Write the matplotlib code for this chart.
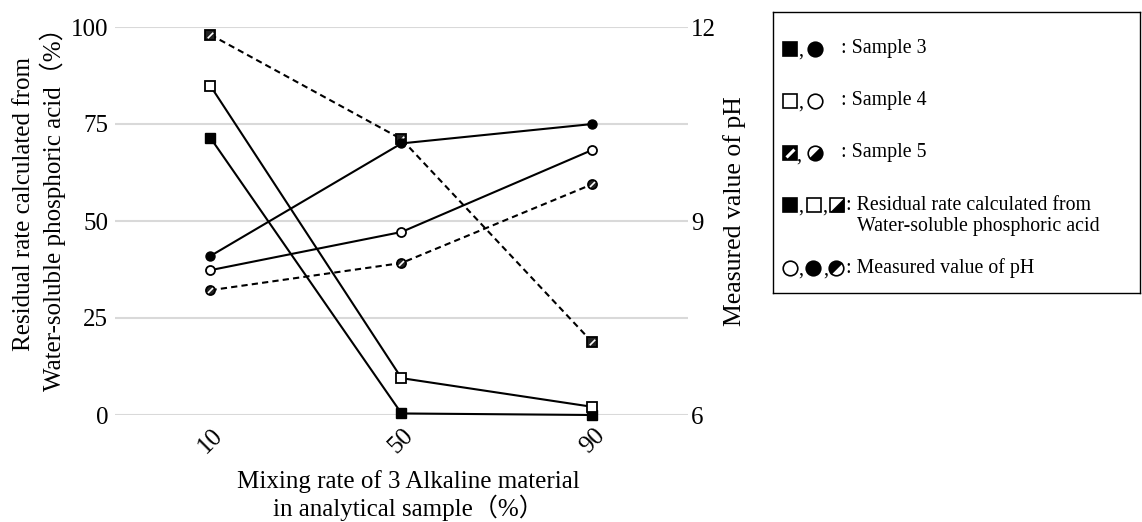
import numpy as np
import matplotlib
matplotlib.use('Agg')
import matplotlib.pyplot as plt
from matplotlib.markers import MarkerStyle
from matplotlib.path import Path
from matplotlib.transforms import Affine2D

# data
mix_rate = ['10', '50', '90']
res_s3 = [71.4, 0.4, 0.0]
res_s4 = [84.8, 9.5, 2.1]
res_s5 = [98.0, 71.1, 18.7]
ph_s3 = [8.46, 10.2, 10.5]
ph_s4 = [8.24, 8.83, 10.1]
ph_s5 = [7.93, 8.35, 9.57]

left_ticks = [0, 25, 50, 75, 100]
right_ticks = [6, 9, 12]

FONT = ['Liberation Serif', 'Noto Sans CJK JP']
plt.rcParams['font.family'] = FONT

W, H = 1142, 522
fig = plt.figure(figsize=(W / 100, H / 100), dpi=100)

# main axes placed in pixel terms
x0, x1, ytop, ybot = 115, 688, 27, 415
ax = fig.add_axes([x0 / W, 1 - ybot / H, (x1 - x0) / W, (ybot - ytop) / H])
ax2 = ax.twinx()

x = np.arange(len(mix_rate))
lw = 1.5
dash = (0, (3, 2))
ms = 6.5
slash = Path([(-1, -1), (1, 1)])
tri_lr = [(-1, -1), (1, -1), (1, 1), (-1, -1)]

# residual rate (left axis, squares)
ax.plot(x, res_s3, color='black', lw=lw, marker='s', ms=ms, mfc='black', mec='black', clip_on=False, zorder=3)
ax.plot(x, res_s4, color='black', lw=lw, marker='s', ms=ms, mfc='white', mec='black', mew=1.3, clip_on=False, zorder=3)
ax.plot(x, res_s5, color='black', lw=lw, linestyle=dash, marker='s', ms=ms, mfc='#222222', mec='black',
        mew=1.3, clip_on=False, zorder=3)
ax.plot(x, res_s5, ls='none', marker=slash, ms=4, mec='white', mew=1.2, clip_on=False, zorder=4)

# pH (right axis, circles)
ax2.plot(x, ph_s3, color='black', lw=lw, marker='o', ms=ms, mfc='black', mec='black', clip_on=False, zorder=3)
ax2.plot(x, ph_s4, color='black', lw=lw, marker='o', ms=ms, mfc='white', mec='black', mew=1.3, clip_on=False, zorder=3)
ax2.plot(x, ph_s5, color='black', lw=lw, linestyle=dash, marker='o', ms=ms, mfc='#222222', mec='black',
         mew=1.3, clip_on=False, zorder=3)
ax2.plot(x, ph_s5, ls='none', marker=slash, ms=3.6, mec='white', mew=1.2, clip_on=False, zorder=4)

ax.set_xlim(-0.5, len(mix_rate) - 0.5)
ax.set_ylim(0, 100)
ax2.set_ylim(6, 12)

ax.set_yticks(left_ticks)
ax2.set_yticks(right_ticks)
ax.set_xticks(x)
ax.set_xticklabels(mix_rate, rotation=45, fontsize=18)
ax.tick_params(axis='x', length=0, pad=7)
ax.tick_params(axis='y', length=0, pad=5, labelsize=18)
ax2.tick_params(axis='y', length=0, pad=2, labelsize=18)

ax.grid(axis='y', color='#d9d9d9', lw=1.5)
ax.set_axisbelow(True)
for a in (ax, ax2):
    for s in a.spines.values():
        s.set_visible(False)

ax.set_ylabel('Residual rate calculated from\nWater-soluble phosphoric acid（%）',
              fontsize=18, linespacing=1.22, labelpad=3, y=0.545)
ax2.set_ylabel('Measured value of pH', fontsize=18.5, labelpad=5, y=0.525)
ax.set_xlabel('Mixing rate of 3 Alkaline material\nin analytical sample（%）',
              fontsize=18, linespacing=1.05, labelpad=9, x=0.512)

# custom legend box
lx0, lx1, ly0, ly1 = 773, 1140, 12, 293
lg = fig.add_axes([lx0 / W, 1 - ly1 / H, (lx1 - lx0) / W, (ly1 - ly0) / H])
lg.set_xlim(0, lx1 - lx0)
lg.set_ylim(ly1 - ly0, 0)
lg.set_xticks([])
lg.set_yticks([])
for s in lg.spines.values():
    s.set_linewidth(1.0)
    s.set_color('black')

fs = 14.3
ms_sq = 9.5
ms_ci = 10.5
mew_l = 1.2


def sym(px, py, kind, fill):
    m = 's' if kind == 'sq' else 'o'
    size = ms_sq if kind == 'sq' else ms_ci
    if fill in ('full', 'none'):
        lg.plot([px], [py], marker=m, ms=size, mfc='black' if fill == 'full' else 'white',
                mec='black', mew=mew_l, ls='none')
    elif fill == 'stripe':
        lg.plot([px], [py], marker=m, ms=size, mfc='black', mec='black', mew=mew_l, ls='none')
        lg.plot([px], [py], marker=slash, ms=size * 0.6, mec='white', mew=2.2, ls='none')
    elif fill == 'half_sq':
        lg.plot([px], [py], marker='s', ms=size, mfc='white', mec='black', mew=mew_l, ls='none')
        lg.plot([px], [py], marker=tri_lr, ms=size, mfc='black', mec='black', mew=0.5, ls='none')
    elif fill == 'half_ci':
        mk = MarkerStyle('o', fillstyle='left', transform=Affine2D().rotate_deg(-45))
        lg.plot([px], [py], marker=mk, ms=size, mfc='black', mfcalt='white', mec='black', mew=mew_l, ls='none')
    elif fill == 'half_ci2':
        mk = MarkerStyle('o', fillstyle='right', transform=Affine2D().rotate_deg(-45))
        lg.plot([px], [py], marker=mk, ms=size, mfc='black', mfcalt='white', mec='black', mew=mew_l, ls='none')


def txt(px, py, s):
    lg.text(px, py, s, fontsize=fs, va='center', ha='left')


rows = [37, 89, 141, 193, 256]
# Sample 3
sym(17, rows[0], 'sq', 'full'); txt(25, rows[0] + 2, ','); sym(42, rows[0], 'ci', 'full')
txt(68, rows[0], ': Sample 3')
# Sample 4
sym(17, rows[1], 'sq', 'none'); txt(25, rows[1] + 2, ','); sym(42, rows[1], 'ci', 'none')
txt(68, rows[1], ': Sample 4')
# Sample 5
sym(17, rows[2], 'sq', 'stripe'); txt(23, rows[2] + 3, ','); sym(42, rows[2], 'ci', 'half_ci2')
txt(68, rows[2], ': Sample 5')
# residual
sym(17, rows[3], 'sq', 'full'); txt(25, rows[3] + 2, ','); sym(41, rows[3], 'sq', 'none')
txt(49, rows[3] + 2, ','); sym(64, rows[3], 'sq', 'half_sq')
txt(73, rows[3], ': Residual rate calculated from')
txt(84, rows[3] + 22, 'Water-soluble phosphoric acid')
# pH
sym(17, rows[4], 'ci', 'none'); txt(25, rows[4] + 2, ','); sym(40, rows[4], 'ci', 'full')
txt(50, rows[4] + 2, ','); sym(63, rows[4], 'ci', 'half_ci')
txt(73, rows[4], ': Measured value of pH')

fig.savefig('out.png', dpi=100)
